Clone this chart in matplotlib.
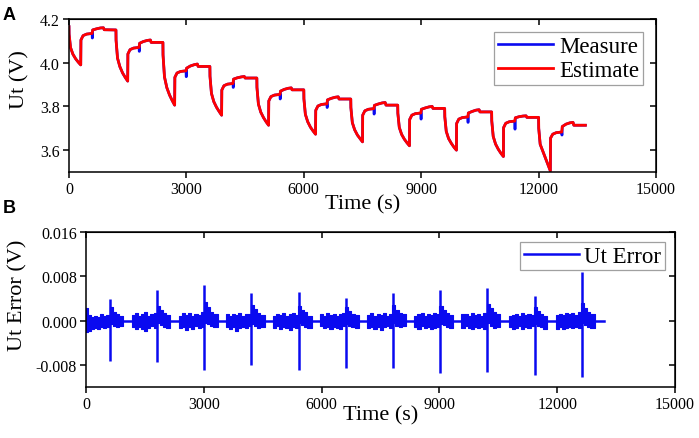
import numpy as np
import matplotlib
matplotlib.use('Agg')
import matplotlib.pyplot as plt

plt.rcParams['font.family'] = ['Liberation Serif', 'DejaVu Serif']
plt.rcParams['axes.unicode_minus'] = False

# ---- panel A data: terminal voltage, one row per pulse cycle ----
cycle_starts = [0, 1200, 2400, 3600, 4800, 6000, 7200, 8400, 9600, 10800, 12000]
cycle_offsets = [0, 3, 40, 100, 170, 240, 300, 305, 360, 450, 590, 605, 700, 800, 880, 900, 1195]

ut_estimate = [
    [4.165, 4.130, 4.069, 4.039, 4.018, 4.002, 3.990, 4.104, 4.124, 4.131, 4.134, 4.150, 4.155, 4.159, 4.160, 4.151, 4.150],
    [4.150, 4.103, 4.021, 3.982, 3.953, 3.932, 3.916, 4.040, 4.060, 4.067, 4.070, 4.089, 4.097, 4.102, 4.104, 4.093, 4.093],
    [4.093, 4.036, 3.935, 3.886, 3.852, 3.826, 3.806, 3.933, 3.953, 3.960, 3.963, 3.975, 3.985, 3.991, 3.994, 3.983, 3.983],
    [3.983, 3.938, 3.860, 3.822, 3.796, 3.776, 3.760, 3.875, 3.895, 3.902, 3.905, 3.925, 3.931, 3.935, 3.937, 3.930, 3.930],
    [3.930, 3.887, 3.811, 3.774, 3.749, 3.729, 3.714, 3.825, 3.845, 3.852, 3.855, 3.870, 3.878, 3.883, 3.885, 3.876, 3.876],
    [3.876, 3.835, 3.764, 3.730, 3.705, 3.687, 3.673, 3.782, 3.802, 3.809, 3.812, 3.830, 3.837, 3.842, 3.844, 3.834, 3.834],
    [3.834, 3.795, 3.726, 3.693, 3.669, 3.652, 3.638, 3.760, 3.780, 3.787, 3.790, 3.805, 3.811, 3.816, 3.818, 3.806, 3.806],
    [3.806, 3.769, 3.704, 3.672, 3.650, 3.633, 3.620, 3.740, 3.760, 3.767, 3.770, 3.787, 3.793, 3.798, 3.800, 3.791, 3.791],
    [3.791, 3.753, 3.686, 3.653, 3.631, 3.613, 3.600, 3.722, 3.742, 3.749, 3.752, 3.770, 3.777, 3.783, 3.785, 3.775, 3.775],
    [3.775, 3.734, 3.663, 3.628, 3.604, 3.585, 3.571, 3.703, 3.723, 3.730, 3.733, 3.748, 3.753, 3.756, 3.757, 3.750, 3.750],
    [3.750, 3.700, 3.627, 3.599, 3.566, 3.535, 3.505, 3.655, 3.673, 3.680, 3.683, 3.708, 3.719, 3.725, 3.727, 3.714, 3.714],
]
# the short pulse in the measured voltage, not followed by the estimate
dip_offsets = [594, 600]
ut_dips = [4.113, 4.052, 3.936, 3.887, 3.834, 3.795, 3.765, 3.742, 3.727, 3.696, 3.669]

# ---- panel B data: estimation error (mV) ----
err_offsets = [-40, 40, 120, 200, 280, 360, 440, 520, 600, 680, 760, 840, 950]
err_upper = [
    [2.2, 1.0, 0.6, 0.9, 0.7, 1.1, 0.8, 1.0, 2.4, 1.6, 1.1, 0.8, 0.0],
    [1.0, 1.4, 0.8, 1.2, 1.5, 0.9, 1.1, 1.3, 2.6, 2.0, 1.4, 1.0, 0.0],
    [0.9, 1.3, 1.0, 1.4, 0.8, 1.2, 1.0, 1.5, 3.3, 2.4, 1.6, 1.1, 0.0],
    [1.1, 0.8, 1.2, 1.0, 1.3, 0.9, 1.2, 1.1, 2.9, 2.1, 1.3, 1.0, 0.0],
    [0.8, 1.2, 1.0, 1.3, 0.9, 1.1, 1.4, 1.0, 2.7, 1.9, 1.5, 0.9, 0.0],
    [1.2, 0.9, 1.3, 1.0, 1.2, 0.8, 1.1, 1.3, 2.5, 1.8, 1.2, 1.0, 0.0],
    [1.0, 1.3, 0.9, 1.2, 1.0, 1.4, 0.9, 1.2, 2.8, 2.0, 1.3, 1.1, 0.0],
    [0.9, 1.1, 1.3, 0.8, 1.2, 1.0, 1.3, 1.1, 2.7, 1.9, 1.4, 1.0, 0.0],
    [1.1, 1.2, 0.8, 1.3, 1.0, 1.2, 0.9, 1.4, 3.0, 2.2, 1.5, 1.1, 0.0],
    [0.8, 1.0, 1.2, 0.9, 1.3, 1.0, 1.2, 1.0, 2.4, 1.7, 1.2, 0.9, 0.0],
    [1.0, 1.2, 1.0, 1.4, 1.1, 1.3, 1.0, 1.5, 3.2, 2.3, 1.6, 1.2, 0.0],
]
err_lower = [
    [-2.0, -1.8, -1.5, -1.3, -1.6, -1.2, -1.4, -1.1, -0.6, -0.9, -1.2, -1.0, 0.0],
    [-1.2, -1.6, -1.1, -1.5, -1.9, -1.3, -1.0, -1.4, -0.5, -0.8, -1.1, -1.3, 0.0],
    [-1.4, -1.1, -1.7, -1.2, -1.5, -1.0, -1.3, -1.2, -0.4, -0.7, -1.0, -1.2, 0.0],
    [-1.1, -1.5, -1.2, -1.8, -1.3, -1.1, -1.4, -1.0, -0.6, -0.9, -1.3, -1.1, 0.0],
    [-1.3, -1.0, -1.6, -1.2, -1.4, -1.7, -1.1, -1.3, -0.5, -0.8, -1.2, -1.4, 0.0],
    [-1.0, -1.4, -1.2, -1.5, -1.1, -1.3, -1.6, -1.0, -0.6, -1.0, -1.1, -1.3, 0.0],
    [-1.4, -1.1, -1.5, -1.2, -1.7, -1.2, -1.0, -1.3, -0.5, -0.9, -1.2, -1.0, 0.0],
    [-1.2, -1.6, -1.0, -1.4, -1.2, -1.5, -1.3, -1.1, -0.6, -0.8, -1.1, -1.4, 0.0],
    [-1.3, -1.0, -1.4, -1.6, -1.1, -1.3, -1.2, -1.5, -0.5, -0.9, -1.3, -1.1, 0.0],
    [-1.1, -1.5, -1.3, -1.0, -1.6, -1.2, -1.4, -1.0, -0.7, -1.0, -1.2, -1.5, 0.0],
    [-1.5, -1.2, -1.6, -1.3, -1.1, -1.4, -1.2, -1.3, -0.4, -0.8, -1.1, -1.3, 0.0],
]
spike_times = [600, 1800, 3005, 4215, 5420, 6630, 7810, 9015, 10220, 11430, 12635]
spike_high = [3.9, 5.5, 6.4, 5.0, 5.1, 4.0, 5.0, 5.5, 5.9, 4.5, 8.7]
spike_low = [-7.3, -7.5, -9.0, -8.1, -9.0, -8.5, -8.6, -9.5, -9.3, -9.9, -10.2]
baseline_t = [0, 13200]
baseline_err = [0.0, 0.0]

BLUE = '#0a0af0'
RED = '#ff0000'


def build_voltage():
    '''Join the per-cycle points into continuous estimate / measure series.'''
    t_est, v_est, t_mea, v_mea = [], [], [], []
    for t0, vals, dip in zip(cycle_starts, ut_estimate, ut_dips):
        t_cyc = [t0 + o for o in cycle_offsets]
        t_est += t_cyc
        v_est += vals
        # measured curve has the short pulse inserted after the 590 s point
        t_mea += t_cyc[:11] + [t0 + o for o in dip_offsets] + t_cyc[11:]
        v_mea += vals[:11] + [dip, dip] + vals[11:]
    return t_est, v_est, t_mea, v_mea


def style_axes(ax):
    for s in ax.spines.values():
        s.set_linewidth(1.1)
    ax.tick_params(axis='both', which='major', length=4.5, width=1.1, labelsize=11.5, pad=2)
    ax.tick_params(axis='x', direction='out')
    ax.tick_params(axis='y', direction='out')
    top = ax.secondary_xaxis('top')
    top.set_xticks(ax.get_xticks())
    top.tick_params(direction='in', length=4.5, width=1.1, labeltop=False)
    right = ax.secondary_yaxis('right')
    right.set_yticks(ax.get_yticks())
    right.tick_params(direction='in', length=4.5, width=1.1, labelright=False)


fig = plt.figure(figsize=(6.99, 4.39), dpi=100)

# ---- A ----
axA = fig.add_axes([0.0987, 0.6059, 0.8398, 0.3485])
t_est, v_est, t_mea, v_mea = build_voltage()
axA.plot(t_mea, v_mea, color=BLUE, lw=1.9, label='Measure')
axA.plot(t_est, v_est, color=RED, lw=2.0, label='Estimate')
axA.set_xlim(0, 15000)
axA.set_ylim(3.5, 4.2)
axA.set_xticks(np.arange(0, 15001, 3000))
axA.set_yticks([3.6, 3.8, 4.0, 4.2])
axA.yaxis.set_major_formatter(matplotlib.ticker.FormatStrFormatter('%.1f'))
axA.set_xlabel('Time (s)', fontsize=16, labelpad=-2)
axA.set_ylabel('Ut (V)', fontsize=16, labelpad=3)
axA.yaxis.set_label_coords(-0.068, 0.61)
style_axes(axA)
legA = axA.legend(loc='upper right', fontsize=16.5, frameon=True, fancybox=False,
                  edgecolor='#888888', handlelength=2.4, handletextpad=0.25,
                  borderpad=0.2, labelspacing=0.1, borderaxespad=0.55)
legA.get_frame().set_linewidth(0.9)

# ---- B ----
axB = fig.add_axes([0.1230, 0.1162, 0.8427, 0.3530])
for t0, up, lo in zip(cycle_starts, err_upper, err_lower):
    tt = [t0 + o for o in err_offsets]
    axB.fill_between(tt, np.array(lo) / 1000, np.array(up) / 1000, step='post',
                     color=BLUE, lw=0.8, edgecolor=BLUE)
axB.vlines(spike_times, np.array(spike_low) / 1000, np.array(spike_high) / 1000,
           color=BLUE, lw=1.8)
axB.plot(baseline_t, baseline_err, color=BLUE, lw=1.8, label='Ut Error')
axB.set_xlim(0, 15000)
axB.set_ylim(-0.012, 0.016)
axB.set_xticks(np.arange(0, 15001, 3000))
axB.set_yticks([-0.008, 0.0, 0.008, 0.016])
axB.yaxis.set_major_formatter(matplotlib.ticker.FormatStrFormatter('%.3f'))
axB.set_xlabel('Time (s)', fontsize=16, labelpad=-5)
axB.set_ylabel('Ut Error (V)', fontsize=16)
axB.yaxis.set_label_coords(-0.1, 0.6)
style_axes(axB)
legB = axB.legend(loc='upper right', fontsize=16.5, frameon=True, fancybox=False,
                  edgecolor='#888888', handlelength=2.4, handletextpad=0.25,
                  borderpad=0.15, borderaxespad=0.45)
legB.get_frame().set_linewidth(0.9)

fig.text(0.004, 0.985, 'A', fontsize=13, fontweight='bold', va='top', ha='left',
         family=['Liberation Sans', 'DejaVu Sans'])
fig.text(0.004, 0.545, 'B', fontsize=13, fontweight='bold', va='top', ha='left',
         family=['Liberation Sans', 'DejaVu Sans'])

fig.savefig('out.png', dpi=100)
